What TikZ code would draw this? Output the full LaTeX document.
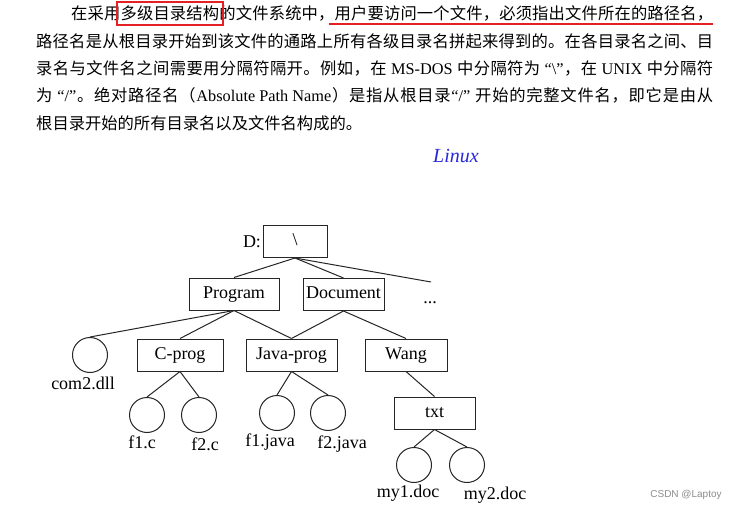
\documentclass[tikz,border=0pt]{standalone}
\usepackage{fontspec}
\setmainfont{Liberation Serif}
\newfontfamily\cjk{Noto Sans CJK SC}
\newfontfamily\wmfont{Liberation Sans}
\newcommand\lat[1]{{\rmfamily\spaceskip=0.25em\relax #1}}
\def\jstend{}
\newcommand\jst[1]{\jstfirst#1\jstend}
\def\jstfirst#1{#1\jstloop}
\def\jstloop#1{\ifx\jstend#1\else\hskip0pt plus1fil\relax#1\expandafter\jstloop\fi}
\newcommand\msdos{\lat{ MS-DOS }}
\newcommand\tunix{\lat{ UNIX }}
\newcommand\qbs{\lat{ “\textbackslash”}}
\newcommand\qsl{\lat{ “/”}}
\newcommand\qslb{\lat{“/” }}
\newcommand\apn{\lat{Absolute Path Name}}
\definecolor{mark}{RGB}{228,32,36}
\definecolor{pen}{RGB}{40,40,220}
\begin{document}
\begin{tikzpicture}[x=1pt,y=-1pt,
  para/.style={anchor=base west, inner sep=0pt, font=\cjk\fontsize{16.3}{20}\selectfont},
  dir/.style={draw=black!85, line width=1pt, inner sep=0pt, minimum height=32pt,
    font=\fontsize{18}{20}\selectfont, text height=12.5pt, text depth=4pt},
  file/.style={circle, draw=black!85, line width=1pt, minimum size=35pt, inner sep=0pt},
  lbl/.style={anchor=base, inner sep=0pt, font=\fontsize{18}{20}\selectfont},
  edge/.style={draw=black!85, line width=1pt},
  markline/.style={draw=mark, line width=1.2pt}]
\useasboundingbox (0,0) rectangle (750,511);
\fill[white] (0,0) rectangle (750,511);

% paragraph
\node[para] (p1) at (71,20) {\hbox to 642pt{\jst{在采用多级目录结构的文件系统中，用户要访问一个文件，必须指出文件所在的路径名，}}};
\node[para] (p2) at (36,47.3) {\hbox to 677pt{\jst{路径名是从根目录开始到该文件的通路上所有各级目录名拼起来得到的。在各目录名之间、目}}};
\node[para] (p3) at (36,74.6) {\hbox to 677pt{\jst{录名与文件名之间需要用分隔符隔开。例如，在\msdos 中分隔符为\qbs ，在\tunix 中分隔符}}};
\node[para] (p4) at (36,101.9) {\hbox to 677pt{\jst{为\qsl 。绝对路径名（\apn ）是指从根目录\qslb 开始的完整文件名，即它是由从}}};
\node[para] (p5) at (36,129.2) {根目录开始的所有目录名以及文件名构成的。};

\draw[markline] (117,2) rectangle (223,25);
\draw[markline] (329,24) -- (713,24);

\node[font=\itshape\fontsize{20}{20}\selectfont, text=pen, inner sep=0pt] (linux) at (456,156) {Linux};

% tree
\node[lbl] (D) at (252,247) {D:};
\node[dir, minimum width=64pt] (root) at (295,241.5) {\textbackslash};
\node[dir, minimum width=90pt] (prog) at (234,294) {Program};
\node[dir, minimum width=81pt] (doc) at (343.5,294.5) {Document};
\node[lbl] (dots) at (430,303) {...};
\coordinate (more) at (431,282);

\node[file] (com2) at (90,355) {};
\node[lbl] (com2l) at (83,389) {com2.dll};
\node[dir, minimum width=86pt] (cprog) at (180,355) {C-prog};
\node[dir, minimum width=91pt] (jprog) at (291.5,355) {Java-prog};
\node[dir, minimum width=82pt] (wang) at (406,355) {Wang};

\node[file] (f1c) at (147,415) {};
\node[lbl] (f1cl) at (142,448) {f1.c};
\node[file] (f2c) at (199,415) {};
\node[lbl] (f2cl) at (205,450) {f2.c};
\node[file] (f1j) at (277,413) {};
\node[lbl] (f1jl) at (270,446) {f1.java};
\node[file] (f2j) at (328,413) {};
\node[lbl] (f2jl) at (342,448) {f2.java};

\node[dir, minimum width=81pt] (txt) at (434.5,413) {txt};
\node[file] (my1) at (414,465) {};
\node[lbl] (my1l) at (408,497) {my1.doc};
\node[file] (my2) at (467,465) {};
\node[lbl] (my2l) at (495,499) {my2.doc};

\draw[edge] (root.south) -- (prog.north);
\draw[edge] (root.south) -- (doc.north);
\draw[edge] (root.south) -- (more);
\draw[edge] (prog.south) -- (com2.north);
\draw[edge] (prog.south) -- (cprog.north);
\draw[edge] (prog.south) -- (jprog.north);
\draw[edge] (doc.south) -- (jprog.north);
\draw[edge] (doc.south) -- (wang.north);
\draw[edge] (cprog.south) -- (f1c.north);
\draw[edge] (cprog.south) -- (f2c.north);
\draw[edge] (jprog.south) -- (f1j.north);
\draw[edge] (jprog.south) -- (f2j.north);
\draw[edge] (wang.south) -- (txt.north);
\draw[edge] (txt.south) -- (my1.north);
\draw[edge] (txt.south) -- (my2.north);

\node[font=\wmfont\fontsize{10}{12}\selectfont, text=black!45, inner sep=0pt] (wm) at (686,495) {CSDN @Laptoy};
\end{tikzpicture}
\end{document}
